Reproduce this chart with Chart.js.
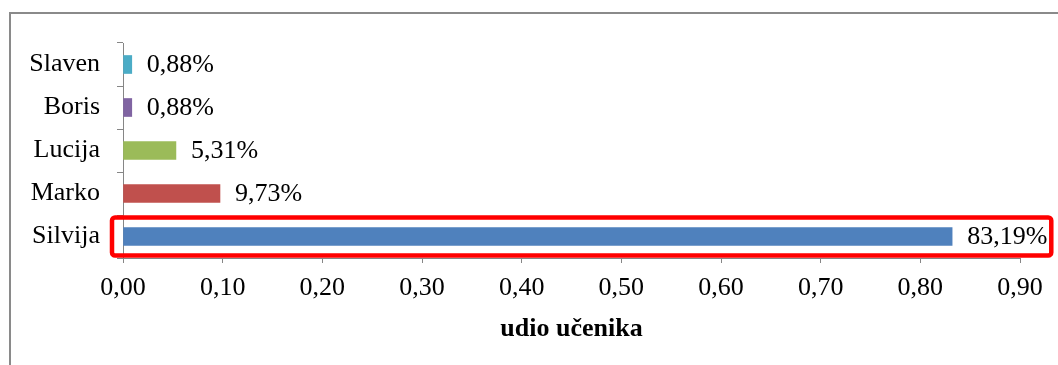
<!DOCTYPE html>
<html>
<head>
<meta charset="utf-8">
<script src="https://cdn.jsdelivr.net/npm/chart.js@4/dist/chart.umd.min.js"></script>
<style>
  body { margin: 0; background: #fff; overflow: hidden; }
  #okvir { position: absolute; left: 0; top: 0; width: 1058px; height: 365px; }
  #rub { position: absolute; left: 9px; top: 12px; width: 1200px; height: 500px;
         border-left: 2px solid #8a8a8a; border-top: 2px solid #8a8a8a; }
  canvas { position: absolute; left: 0; top: 0; }
</style>
</head>
<body>
<div id="okvir">
  <div id="rub"></div>
  <canvas id="grafikon" width="1058" height="365"></canvas>
</div>
<script>
// podaci
const ucenici = ['Silvija', 'Marko', 'Lucija', 'Boris', 'Slaven'];
const udjeli = [0.8319, 0.0973, 0.0531, 0.0088, 0.0088];
const boje = ['#4F81BD', '#C0504D', '#9BBB59', '#8064A2', '#4BACC6'];
const osX = { min: 0, max: 0.9, korak: 0.1 };
const naslovX = 'udio učenika';
const istaknuti = 'Silvija';

const font = 'Liberation Serif, Times New Roman, serif';
const velicina = 26;
const siva = '#868686';

function uPostotak(v) {
    return (v * 100).toFixed(2).replace('.', ',') + '%';
}

// oznake vrijednosti pokraj stupaca
const oznakePlugin = {
    id: 'oznake',
    afterDatasetsDraw(chart) {
        const ctx = chart.ctx;
        const meta = chart.getDatasetMeta(0);
        ctx.save();
        ctx.font = velicina + 'px ' + font;
        ctx.fillStyle = '#000';
        ctx.textAlign = 'left';
        ctx.textBaseline = 'middle';
        meta.data.forEach((bar, i) => {
            ctx.fillText(uPostotak(udjeli[i]), bar.x + 15, bar.y + 1);
        });
        ctx.restore();
    }
};

// crveni okvir oko istaknutog ucenika
const okvirPlugin = {
    id: 'crveniOkvir',
    afterDraw(chart) {
        const ctx = chart.ctx;
        const i = ucenici.indexOf(istaknuti);
        const bar = chart.getDatasetMeta(0).data[i];
        ctx.save();
        ctx.font = velicina + 'px ' + font;
        const sirina = ctx.measureText(uPostotak(udjeli[i])).width;
        const lijevo = chart.scales.x.left - 11;
        const desno = bar.x + 15 + sirina + 4;
        const gore = bar.y - 19;
        const dolje = bar.y + 19;
        ctx.strokeStyle = '#FF0000';
        ctx.lineWidth = 4.5;
        ctx.beginPath();
        ctx.roundRect(lijevo, gore, desno - lijevo, dolje - gore, 3);
        ctx.stroke();
        ctx.restore();
    }
};

const ctx = document.getElementById('grafikon');

new Chart(ctx, {
    type: 'bar',
    data: {
        labels: ucenici,
        datasets: [{
            data: udjeli,
            backgroundColor: boje,
            barThickness: 18,
            borderWidth: 0
        }]
    },
    options: {
        indexAxis: 'y',
        responsive: false,
        animation: false,
        layout: { padding: { left: 10, right: 38, top: 43, bottom: 0 } },
        plugins: {
            legend: { display: false },
            tooltip: { enabled: false }
        },
        scales: {
            x: {
                min: osX.min,
                max: osX.max,
                afterFit(scale) { scale.height = 107; },
                grid: { drawOnChartArea: false, tickLength: 5, color: siva },
                border: { color: siva },
                ticks: {
                    stepSize: osX.korak,
                    padding: 10,
                    color: '#000',
                    font: { family: font, size: velicina },
                    callback: v => v.toFixed(2).replace('.', ',')
                },
                title: {
                    display: true,
                    text: naslovX,
                    color: '#000',
                    font: { family: font, size: velicina, weight: 'bold' },
                    padding: { top: 0, bottom: 20 }
                }
            },
            y: {
                reverse: true,
                afterFit(scale) { scale.width = 113; },
                grid: { drawOnChartArea: false, tickLength: 6, color: siva },
                border: { color: siva },
                ticks: {
                    padding: 17,
                    color: '#000',
                    font: { family: font, size: velicina }
                }
            }
        }
    },
    plugins: [oznakePlugin, okvirPlugin]
});
</script>
</body>
</html>
